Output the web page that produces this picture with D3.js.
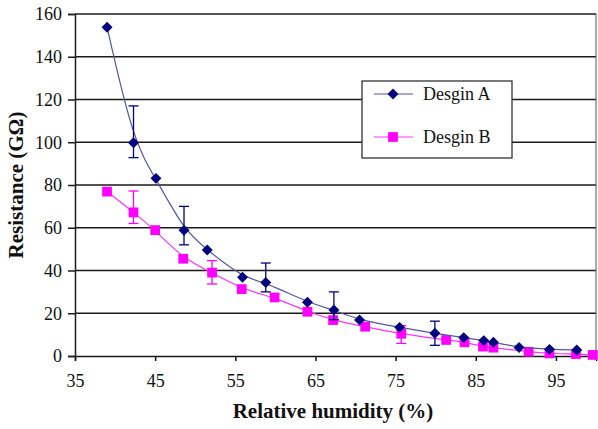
<!DOCTYPE html>
<html>
<head>
<meta charset="utf-8">
<script src="https://cdn.jsdelivr.net/npm/d3@7"></script>
<style>
  body { margin: 0; background: #fff; }
  svg text { font-family: 'Liberation Serif', 'Times New Roman', Times, serif; }
</style>
</head>
<body>
<svg id="chart" width="598" height="429"></svg>
<script>
// Design A readings (relative humidity %, resistance GΩ)
const humidityA = [39.0, 42.3, 45.1, 48.6, 51.5, 55.9, 58.8, 64.0, 67.3, 70.5, 75.5, 79.9, 83.5, 86.0, 87.2, 90.4, 94.2, 97.6];
const resistA   = [153.8, 99.8, 83.1, 58.8, 49.6, 36.8, 34.4, 25.1, 21.5, 16.8, 13.4, 10.6, 8.6, 7.2, 6.4, 4.0, 3.1, 2.8];
// error bars for design A (index into series, upper, lower)
const errIdxA = [1, 3, 6, 8, 11];
const errHiA  = [117, 70, 43.5, 30, 16.3];
const errLoA  = [92.8, 52, 30, 17, 5];

// Design B readings
const humidityB = [39.0, 42.3, 45.0, 48.5, 52.1, 55.8, 59.9, 64.0, 67.2, 71.2, 75.7, 81.3, 83.6, 85.9, 87.2, 91.6, 94.2, 97.5, 99.6];
const resistB   = [76.9, 67.2, 58.9, 45.5, 39.0, 31.3, 27.4, 20.7, 16.8, 13.7, 10.4, 7.5, 6.4, 4.4, 3.9, 2.0, 1.2, 0.9, 0.5];
const errIdxB = [1, 4, 10];
const errHiB  = [77.2, 44.6, 14.2];
const errLoB  = [62, 33.7, 5.9];

const xTicks = [35, 45, 55, 65, 75, 85, 95];
const yTicks = [0, 20, 40, 60, 80, 100, 120, 140, 160];
const seriesNames = ['Desgin A', 'Desgin B'];

const serif = "'Liberation Serif', 'Times New Roman', Times, serif";
const svg = d3.select('#chart');
const plotL = 75, plotR = 596, plotT = 14, plotB = 356;

const x = d3.scaleLinear().domain([35, 100]).range([plotL, plotR]);
const y = d3.scaleLinear().domain([0, 160]).range([plotB, plotT]);

// horizontal gridlines
svg.append('g')
  .selectAll('line')
  .data(yTicks.filter(d => d > 0))
  .enter().append('line')
  .attr('x1', plotL).attr('x2', plotR)
  .attr('y1', d => y(d)).attr('y2', d => y(d))
  .attr('stroke', '#1a1a1a').attr('stroke-width', 1.5);

// right border of the plot
svg.append('line')
  .attr('x1', plotR).attr('x2', plotR).attr('y1', plotT).attr('y2', plotB)
  .attr('stroke', '#555').attr('stroke-width', 1);

// axes
const yAxis = svg.append('g')
  .attr('transform', `translate(${plotL},0)`)
  .call(d3.axisLeft(y).tickValues(yTicks).tickSize(7).tickPadding(6));
const xAxis = svg.append('g')
  .attr('transform', `translate(0,${plotB})`)
  .call(d3.axisBottom(x).tickValues(xTicks).tickSize(5).tickPadding(13));

[xAxis, yAxis].forEach(g => {
  g.attr('font-family', serif).attr('font-size', 18);
  g.select('.domain').attr('stroke', '#1a1a1a').attr('stroke-width', 1.5);
  g.selectAll('.tick line').attr('stroke', '#1a1a1a').attr('stroke-width', 1.5);
  g.selectAll('.tick text').attr('fill', '#111');
});

// axis titles
svg.append('text')
  .attr('x', 333).attr('y', 418)
  .attr('text-anchor', 'middle')
  .attr('font-family', serif)
  .style('font-size', '21px').style('font-weight', 'bold')
  .attr('fill', '#111')
  .text('Relative humidity (%)');
svg.append('text')
  .attr('transform', `translate(23,${(plotT + plotB) / 2}) rotate(-90)`)
  .attr('text-anchor', 'middle')
  .attr('font-family', serif)
  .style('font-size', '21px').style('font-weight', 'bold')
  .attr('fill', '#111')
  .text('Resistance (GΩ)');

const line = d3.line()
  .x(d => x(d[0])).y(d => y(d[1]))
  .curve(d3.curveBasis);

// diamond = square turned 45 degrees, as in the spreadsheet marker
function marker(shape) {
  return shape === 'diamond'
    ? d3.symbol().type(d3.symbolSquare).size(60)()
    : d3.symbol().type(d3.symbolSquare).size(95)();
}
const rot = shape => shape === 'diamond' ? ' rotate(45)' : '';

function drawSeries(hum, res, errIdx, errHi, errLo, color, lineColor, shape) {
  const pts = hum.map((h, i) => [h, res[i]]);
  const g = svg.append('g');

  g.append('path')
    .datum(pts)
    .attr('d', line)
    .attr('fill', 'none')
    .attr('stroke', lineColor)
    .attr('stroke-width', 1.2);

  // error bars
  const eb = g.selectAll('.err')
    .data(errIdx.map((k, j) => ({ h: hum[k], hi: errHi[j], lo: errLo[j] })))
    .enter().append('g');
  eb.append('line')
    .attr('x1', d => x(d.h)).attr('x2', d => x(d.h))
    .attr('y1', d => y(d.hi)).attr('y2', d => y(d.lo))
    .attr('stroke', color).attr('stroke-width', 1.3);
  ['hi', 'lo'].forEach(k => {
    eb.append('line')
      .attr('x1', d => x(d.h) - 5).attr('x2', d => x(d.h) + 5)
      .attr('y1', d => y(d[k])).attr('y2', d => y(d[k]))
      .attr('stroke', color).attr('stroke-width', 1.3);
  });

  // markers
  g.selectAll('.mk')
    .data(pts)
    .enter().append('path')
    .attr('transform', d => `translate(${x(d[0])},${y(d[1])})${rot(shape)}`)
    .attr('d', marker(shape))
    .attr('fill', color);
}

drawSeries(humidityB, resistB, errIdxB, errHiB, errLoB, '#ff00ff', '#ff33ff', 'square');
drawSeries(humidityA, resistA, errIdxA, errHiA, errLoA, '#000080', '#5555a0', 'diamond');

// legend
const legend = svg.append('g').attr('transform', 'translate(362,81)');
legend.append('rect')
  .attr('width', 150).attr('height', 77)
  .attr('fill', '#fff').attr('stroke', '#333').attr('stroke-width', 1.3);
const legendColors = ['#000080', '#ff00ff'];
const legendLines = ['#5555a0', '#ff33ff'];
const legendShapes = ['diamond', 'square'];
const items = legend.selectAll('.item')
  .data(seriesNames)
  .enter().append('g')
  .attr('transform', (d, i) => `translate(0,${13 + i * 43})`);
items.append('line')
  .attr('x1', 12).attr('x2', 51)
  .attr('stroke', (d, i) => legendLines[i])
  .attr('stroke-width', 1.2);
items.append('path')
  .attr('transform', (d, i) => `translate(31,0)${rot(legendShapes[i])}`)
  .attr('d', (d, i) => marker(legendShapes[i]))
  .attr('fill', (d, i) => legendColors[i]);
items.append('text')
  .attr('x', 61).attr('y', 5.5)
  .attr('font-family', serif)
  .style('font-size', '18px')
  .attr('fill', '#111')
  .text(d => d);
</script>
</body>
</html>
